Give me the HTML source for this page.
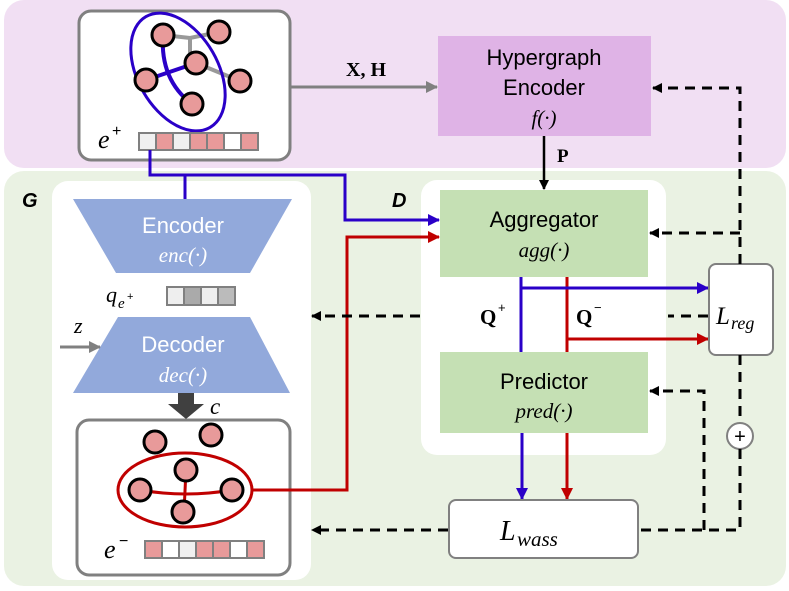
<!DOCTYPE html>
<html><head><meta charset="utf-8"><style>
html,body{margin:0;padding:0;background:#fff;}
svg{display:block;}
text{font-family:"Liberation Sans",sans-serif;}
.m{font-family:"Liberation Serif",serif;font-style:italic;}
.b{font-family:"Liberation Serif",serif;font-weight:bold;}
</style></head><body>
<svg width="789" height="591" viewBox="0 0 789 591" xmlns="http://www.w3.org/2000/svg">
<defs>
<marker id="ak" markerWidth="10" markerHeight="10" refX="9" refY="5" orient="auto" markerUnits="userSpaceOnUse"><path d="M0,0 L10,5 L0,10 z" fill="#000"/></marker>
<marker id="ab" markerWidth="12" markerHeight="12" refX="11" refY="6" orient="auto" markerUnits="userSpaceOnUse"><path d="M0,0 L12,6 L0,12 z" fill="#2a00c8"/></marker>
<marker id="ar" markerWidth="12" markerHeight="12" refX="11" refY="6" orient="auto" markerUnits="userSpaceOnUse"><path d="M0,0 L12,6 L0,12 z" fill="#c00000"/></marker>
<marker id="ag" markerWidth="12" markerHeight="12" refX="11" refY="6" orient="auto" markerUnits="userSpaceOnUse"><path d="M0,0 L12,6 L0,12 z" fill="#808080"/></marker>
</defs>
<rect x="4" y="0" width="782" height="168" rx="20" fill="#f1dff3"/>
<rect x="4" y="171" width="782" height="415" rx="20" fill="#eaf2e3"/>
<rect x="52" y="181" width="259" height="399" rx="16" fill="#fff"/>
<rect x="421" y="180" width="245" height="275" rx="16" fill="#fff"/>
<text x="22" y="207" font-size="20" font-weight="bold" font-style="italic">G</text>
<text x="392" y="207" font-size="20" font-weight="bold" font-style="italic">D</text>

<rect x="79" y="11" width="211" height="149" rx="12" fill="#fff" stroke="#808080" stroke-width="3"/>
<g stroke="#999" stroke-width="4" fill="none">
<path d="M163,35 L190,38 L219,32"/><path d="M190,38 L190,60"/><path d="M196,63 L240,81"/>
</g>
<g stroke="#2a00c8" stroke-width="4" fill="none">
<path d="M163,35 Q160,80 192,104"/><path d="M146,80 L196,63"/>
</g>
<ellipse cx="178" cy="72" rx="40" ry="64" transform="rotate(-30 178 72)" fill="none" stroke="#2a00c8" stroke-width="3"/>
<g fill="#e89a9a" stroke="#000" stroke-width="3">
<circle cx="163" cy="35" r="11"/><circle cx="219" cy="32" r="11"/><circle cx="196" cy="63" r="11"/>
<circle cx="146" cy="80" r="11"/><circle cx="240" cy="81" r="11"/><circle cx="192" cy="104" r="11"/>
</g>
<text x="98" y="148" class="m" font-size="26">e</text><text x="112" y="136" font-size="16">+</text>
<g stroke="#808080" stroke-width="2">
<rect x="139" y="133" width="17" height="17" fill="#f0f0f0"/><rect x="156" y="133" width="17" height="17" fill="#e89a9a"/>
<rect x="173" y="133" width="17" height="17" fill="#f0f0f0"/><rect x="190" y="133" width="17" height="17" fill="#e89a9a"/>
<rect x="207" y="133" width="17" height="17" fill="#e89a9a"/><rect x="224" y="133" width="17" height="17" fill="#fff"/>
<rect x="241" y="133" width="17" height="17" fill="#e89a9a"/>
</g>

<rect x="438" y="36" width="213" height="100" fill="#dfb3e6"/>
<text x="544" y="65" font-size="22" text-anchor="middle">Hypergraph</text>
<text x="544" y="95" font-size="22" text-anchor="middle">Encoder</text>
<text x="544" y="125" class="m" font-size="21" text-anchor="middle">f(·)</text>
<line x1="290" y1="87" x2="437" y2="87" stroke="#808080" stroke-width="3" marker-end="url(#ag)"/>
<text x="366" y="76" class="b" font-size="20" text-anchor="middle">X, H</text>
<line x1="544" y1="136" x2="544" y2="189" stroke="#000" stroke-width="2.5" marker-end="url(#ak)"/>
<text x="557" y="162" class="b" font-size="19">P</text>

<polygon points="73,199 292,199 250,273 116,273" fill="#92a9db"/>
<text x="183" y="233" font-size="22" fill="#fff" text-anchor="middle">Encoder</text>
<text x="183" y="262" class="m" font-size="21" fill="#fff" text-anchor="middle">enc(·)</text>
<text x="106" y="302" class="m" font-size="22">q</text><text x="118" y="308" class="m" font-size="15">e</text><text x="127" y="300" font-size="11">+</text>
<g stroke="#808080" stroke-width="2">
<rect x="167" y="287" width="17" height="18" fill="#eee"/><rect x="184" y="287" width="17" height="18" fill="#aaa"/>
<rect x="201" y="287" width="17" height="18" fill="#eee"/><rect x="218" y="287" width="17" height="18" fill="#bbb"/>
</g>
<polygon points="118,317 250,317 290,393 73,393" fill="#92a9db"/>
<text x="183" y="352" font-size="22" fill="#fff" text-anchor="middle">Decoder</text>
<text x="183" y="382" class="m" font-size="21" fill="#fff" text-anchor="middle">dec(·)</text>
<text x="74" y="333" class="m" font-size="22">z</text>
<line x1="60" y1="347" x2="100" y2="347" stroke="#808080" stroke-width="3" marker-end="url(#ag)"/>
<polygon points="178,393 194,393 194,404 204,404 186,419 168,404 178,404" fill="#404040"/>
<text x="210" y="414" class="m" font-size="23">c</text>

<rect x="77" y="420" width="213" height="155" rx="12" fill="#fff" stroke="#808080" stroke-width="3"/>
<ellipse cx="185" cy="490" rx="67" ry="37" fill="none" stroke="#c00000" stroke-width="3"/>
<g stroke="#c00000" stroke-width="3" fill="none"><path d="M140,490 Q186,498 232,490"/><path d="M186,470 L184,512"/></g>
<g fill="#e89a9a" stroke="#000" stroke-width="3">
<circle cx="155" cy="442" r="11"/><circle cx="211" cy="435" r="11"/><circle cx="186" cy="470" r="11"/>
<circle cx="140" cy="490" r="11"/><circle cx="232" cy="490" r="11"/><circle cx="183" cy="512" r="11"/>
</g>
<text x="104" y="558" class="m" font-size="26">e</text><text x="119" y="546" font-size="16">−</text>
<g stroke="#808080" stroke-width="2">
<rect x="145" y="541" width="17" height="17" fill="#e89a9a"/><rect x="162" y="541" width="17" height="17" fill="#fff"/>
<rect x="179" y="541" width="17" height="17" fill="#f0f0f0"/><rect x="196" y="541" width="17" height="17" fill="#e89a9a"/>
<rect x="213" y="541" width="17" height="17" fill="#e89a9a"/><rect x="230" y="541" width="17" height="17" fill="#fff"/>
<rect x="247" y="541" width="17" height="17" fill="#e89a9a"/>
</g>

<path d="M150,150 L150,175 L345,175 L345,220 L439,220" fill="none" stroke="#2a00c8" stroke-width="3" marker-end="url(#ab)"/>
<line x1="185" y1="175" x2="185" y2="199" stroke="#2a00c8" stroke-width="3"/>
<path d="M252,490 L347,490 L347,237 L439,237" fill="none" stroke="#c00000" stroke-width="3" marker-end="url(#ar)"/>

<rect x="440" y="190" width="208" height="87" fill="#c5e0b4"/>
<text x="544" y="227" font-size="22" text-anchor="middle">Aggregator</text>
<text x="544" y="257" class="m" font-size="21" text-anchor="middle">agg(·)</text>
<rect x="440" y="352" width="208" height="81" fill="#c5e0b4"/>
<text x="544" y="389" font-size="22" text-anchor="middle">Predictor</text>
<text x="544" y="418" class="m" font-size="21" text-anchor="middle">pred(·)</text>
<line x1="521" y1="277" x2="521" y2="352" stroke="#2a00c8" stroke-width="3"/>
<line x1="567" y1="277" x2="567" y2="352" stroke="#c00000" stroke-width="3"/>
<line x1="521" y1="288" x2="708" y2="288" stroke="#2a00c8" stroke-width="3" marker-end="url(#ab)"/>
<line x1="567" y1="339" x2="708" y2="339" stroke="#c00000" stroke-width="3" marker-end="url(#ar)"/>
<text x="480" y="324" class="b" font-size="21">Q</text><text x="498" y="312" font-size="13">+</text>
<text x="576" y="324" class="b" font-size="21">Q</text><text x="594" y="312" font-size="13">−</text>
<line x1="522" y1="433" x2="522" y2="499" stroke="#2a00c8" stroke-width="3" marker-end="url(#ab)"/>
<line x1="567" y1="433" x2="567" y2="499" stroke="#c00000" stroke-width="3" marker-end="url(#ar)"/>

<rect x="709" y="264" width="64" height="91" rx="7" fill="#fff" stroke="#808080" stroke-width="2"/>
<text x="716" y="324" class="m" font-size="25">L</text><text x="731" y="329" class="m" font-size="18">reg</text>
<rect x="449" y="500" width="189" height="58" rx="7" fill="#fff" stroke="#808080" stroke-width="2"/>
<text x="500" y="540" class="m" font-size="28">L</text><text x="517" y="546" class="m" font-size="21">wass</text>
<circle cx="740" cy="436" r="13" fill="#fff" stroke="#808080" stroke-width="2"/>
<text x="740" y="443" font-size="20" text-anchor="middle">+</text>

<g fill="none" stroke="#000" stroke-width="3" stroke-dasharray="10,7">
<path d="M740,264 L740,88 L653,88" marker-end="url(#ak)"/>
<path d="M740,233 L650,233" marker-end="url(#ak)"/>
<path d="M708,316 L668,316"/>
<path d="M420,316 L312,316" marker-end="url(#ak)"/>
<path d="M740,355 L740,423"/>
<path d="M740,449 L740,530 L638,530"/>
<path d="M704,530 L704,391 L650,391" marker-end="url(#ak)"/>
<path d="M448,530 L312,530" marker-end="url(#ak)"/>
</g>
</svg>
</body></html>
